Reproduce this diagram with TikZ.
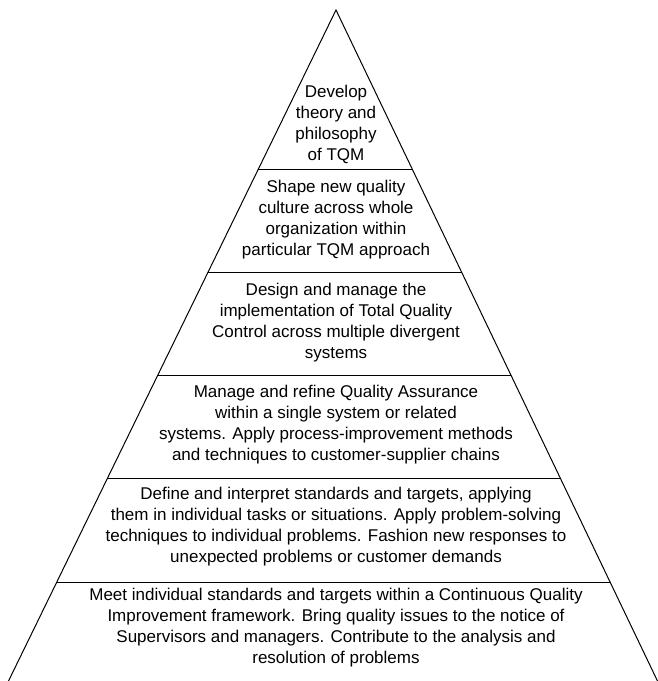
\documentclass[tikz,border=0pt]{standalone}
\usepackage{fontspec}
\setmainfont{Liberation Sans}
\usetikzlibrary{calc}
\begin{document}
\begin{tikzpicture}[x=1pt,y=-1pt,
  edge/.style={line width=1pt,black},
  level/.style={line width=1pt,black},
  label/.style={align=center,font=\fontsize{17}{21}\selectfont,text=black,inner sep=0pt}]
\useasboundingbox (0,0) rectangle (658,681);
\coordinate (apex) at (336,10);
\coordinate (bl) at (8.5,681);
\coordinate (br) at (657.5,681);
\draw[edge] (bl) -- (apex) -- (br);
\foreach \y [count=\i] in {169,272,375,478,582}{
  \pgfmathsetmacro\t{(\y-10)/671}
  \coordinate (l\i) at ($(apex)!\t!(bl)$);
  \coordinate (r\i) at ($(apex)!\t!(br)$);
  \draw[level] (l\i) -- (r\i);
}
\node[label] (t1) at (336,124) {Develop\\theory and\\philosophy\\of TQM};
\node[label] (t2) at (336,220) {Shape new quality\\culture across whole\\organization within\\particular TQM approach};
\node[label] (t3) at (336,323) {Design and manage the\\implementation of Total Quality\\Control across multiple divergent\\systems};
\node[label] (t4) at (336,425) {Manage and refine Quality Assurance\\within a single system or related\\systems. Apply process-improvement methods\\and techniques to customer-supplier chains};
\node[label] (t5) at (336,527) {Define and interpret standards and targets, applying\\them in individual tasks or situations. Apply problem-solving\\techniques to individual problems. Fashion new responses to\\unexpected problems or customer demands};
\node[label] (t6) at (336,628) {Meet individual standards and targets within a Continuous Quality\\Improvement framework. Bring quality issues to the notice of\\Supervisors and managers. Contribute to the analysis and\\resolution of problems};
\end{tikzpicture}
\end{document}
